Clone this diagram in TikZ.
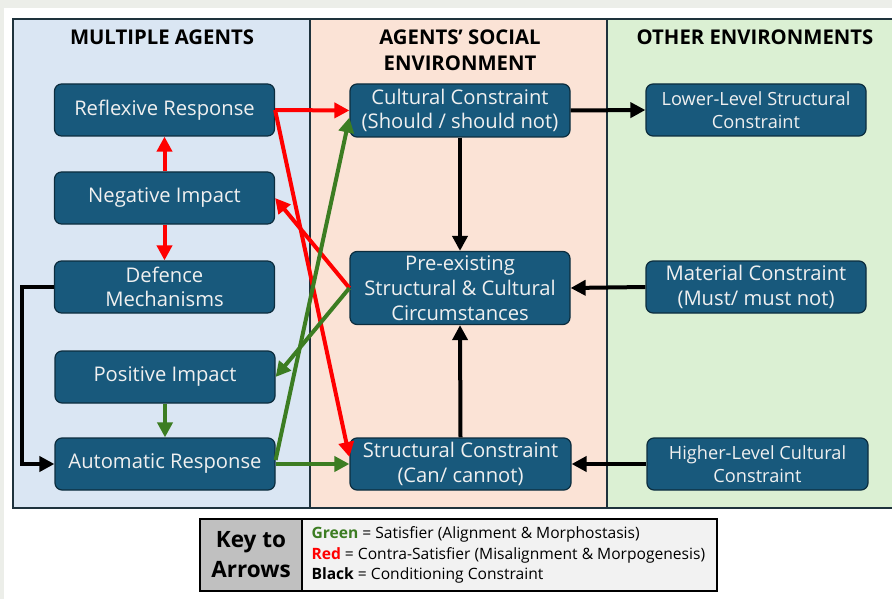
\documentclass[tikz,border=0pt]{standalone}
\usepackage{fontspec}
\setmainfont{Open Sans}
\usetikzlibrary{arrows.meta}
\definecolor{bggray}{RGB}{236,238,233}
\definecolor{colblue}{RGB}{218,230,243}
\definecolor{colpeach}{RGB}{251,227,214}
\definecolor{colgreen}{RGB}{219,240,211}
\definecolor{framecol}{RGB}{30,50,60}
\definecolor{boxblue}{RGB}{24,89,124}
\definecolor{boxedge}{RGB}{12,45,62}
\definecolor{arrred}{RGB}{255,0,0}
\definecolor{arrgreen}{RGB}{60,125,34}
\definecolor{keygray}{RGB}{192,192,192}
\definecolor{keylight}{RGB}{242,242,242}
\begin{document}
\begin{tikzpicture}[x=1pt,y=-1pt,
  box/.style={draw=boxedge, line width=1.2pt, fill=boxblue, rounded corners=7pt,
    text=white!94!black, align=center, inner sep=0pt,
    minimum width=220pt, minimum height=52pt,
    font=\fontsize{20.2}{24.5}\selectfont},
  smallbox/.style={box, font=\fontsize{18.2}{23.5}\selectfont},
  head/.style={align=center, font=\bfseries\fontsize{20.3}{26}\selectfont},
  arr/.style={line width=4pt, -{Triangle[length=15pt,width=15pt]}},
  rarr/.style={arr, draw=arrred},
  garr/.style={arr, draw=arrgreen},
  barr/.style={arr, draw=black},
]
\useasboundingbox (0,0) rectangle (892,599);
\fill[bggray] (0,0) rectangle (892,599);
\fill[white] (4,8) rectangle (892,599);
% columns
\fill[colblue] (13,19) rectangle (310,508);
\fill[colpeach] (310,19) rectangle (607,508);
\fill[colgreen] (607,19) rectangle (892,508);
\draw[framecol, line width=1.3pt] (892,19) -- (13,19) -- (13,508) -- (892,508);
\draw[framecol, line width=1.3pt] (310,19) -- (310,508);
\draw[framecol, line width=1.3pt] (607,19) -- (607,508);
% headings
\node[head] (h1) at (162,37) {MULTIPLE AGENTS};
\node[head] (h2) at (460,50) {AGENTS’ SOCIAL\\ENVIRONMENT};
\node[head] (h3) at (755,37) {OTHER ENVIRONMENTS};
% left column
\node[box] (rr) at (164.5,110) {Reflexive Response};
\node[box] (ni) at (164.5,198) {Negative Impact};
\node[box] (dm) at (164.5,287) {Defence\\Mechanisms};
\node[box] (pi) at (165,377) {Positive Impact};
\node[box] (ar) at (165,464) {Automatic Response};
% middle column
\node[box, minimum height=53pt] (cc) at (460,110.5) {Cultural Constraint\\(Should / should not)};
\node[box, minimum height=73pt] (pe) at (460,288) {Pre-existing\\[0.5pt]Structural \& Cultural\\[0.5pt]Circumstances};
\node[box, minimum width=221pt] (sc) at (460.5,464) {Structural Constraint\\(Can/ cannot)};
% right column
\node[smallbox] (ll) at (756,110) {Lower-Level Structural\\Constraint};
\node[box] (mc) at (756,287) {Material Constraint\\(Must/ must not)};
\node[smallbox, minimum width=221pt] (hl) at (757.5,464) {Higher-Level Cultural\\Constraint};
% red arrows
\draw[rarr] (rr.east) -- (cc.west);
\draw[rarr] (rr.east) -- ([yshift=7pt]sc.west);
\draw[rarr] (pe.west) -- (ni.east);
\draw[rarr] (ni.north) -- (rr.south);
\draw[rarr] (ni.south) -- (dm.north);
% green arrows
\draw[garr] ([yshift=4pt]ar.east) -- ([yshift=-7pt]cc.west);
\draw[garr] (pe.west) -- (pi.east);
\draw[garr] (pi.south) -- (ar.north);
\draw[garr] (ar.east) -- (sc.west);
% black arrows
\draw[barr] (cc.south) -- (pe.north);
\draw[barr] (sc.north) -- (pe.south);
\draw[barr] (cc.east) -- (ll.west);
\draw[barr] (mc.west) -- (pe.east);
\draw[barr] (hl.west) -- (sc.east);
\coordinate (bend) at (22,287);
\draw[barr] (dm.west) -- (bend) |- (ar.west);
% key
\draw[line width=1.2pt, fill=keylight] (200,519) rectangle (717,591);
\draw[line width=1.2pt, fill=keygray] (200,519) rectangle (302,591);
\node[align=center, font=\bfseries\fontsize{22.5}{30}\selectfont] (k1) at (251,555) {Key to\\Arrows};
\node[align=left, anchor=west, font=\fontsize{15.6}{20.5}\selectfont] (k2) at (308,555)
  {\textcolor{arrgreen}{\bfseries Green} = Satisfier (Alignment \& Morphostasis)\\
   \textcolor{arrred}{\bfseries Red} = Contra-Satisfier (Misalignment \& Morpogenesis)\\
   {\bfseries Black} = Conditioning Constraint};
\end{tikzpicture}
\end{document}
